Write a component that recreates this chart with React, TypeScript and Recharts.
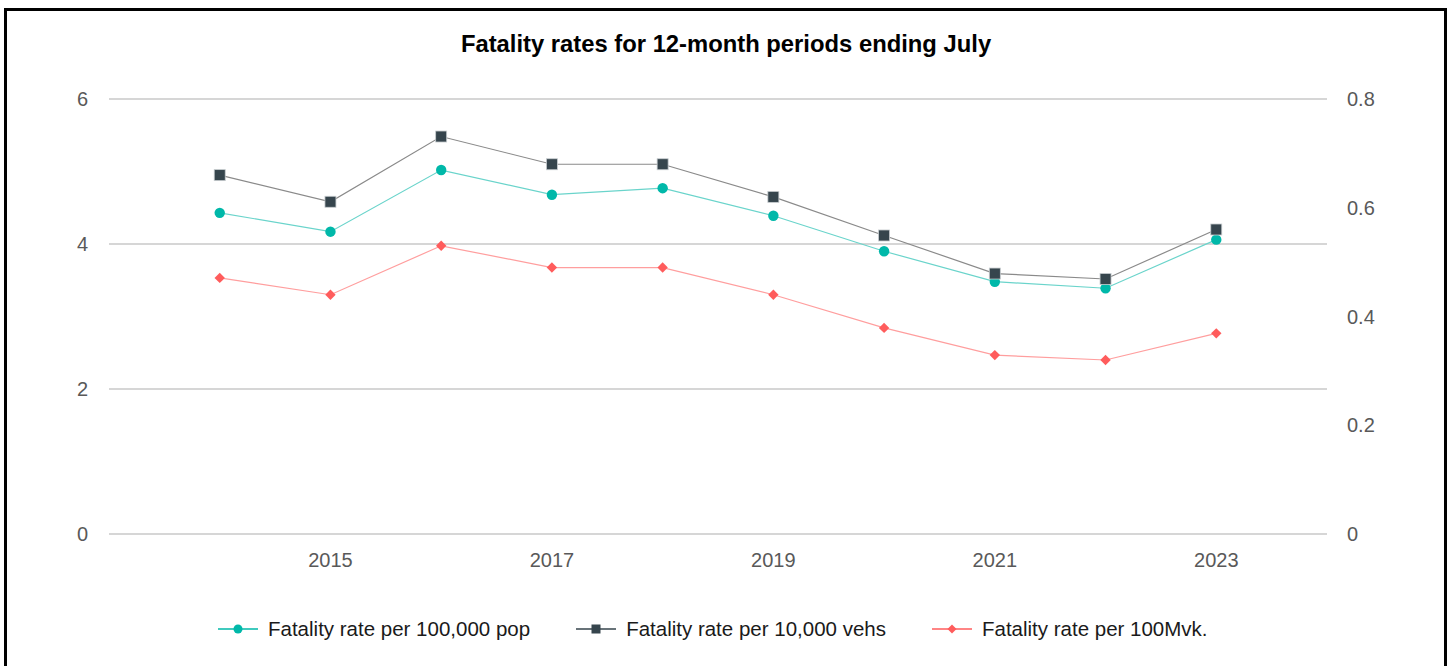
import React from "react";
import {
  LineChart,
  Line,
  XAxis,
  YAxis,
  CartesianGrid,
  Legend,
} from "recharts";

const years = [2014, 2015, 2016, 2017, 2018, 2019, 2020, 2021, 2022, 2023];
const perPop = [4.43, 4.17, 5.02, 4.68, 4.77, 4.39, 3.9, 3.48, 3.39, 4.06];
const perVehs = [0.66, 0.611, 0.731, 0.68, 0.68, 0.62, 0.549, 0.479, 0.469, 0.56];
const perMvk = [0.471, 0.44, 0.53, 0.49, 0.49, 0.44, 0.379, 0.329, 0.32, 0.369];

const xTicks = [2015, 2017, 2019, 2021, 2023];
const leftTicks = [0, 2, 4, 6];
const rightTicks = [0, 0.2, 0.4, 0.6, 0.8];

const data = years.map((year, i) => ({
  year,
  pop: perPop[i],
  vehs: perVehs[i],
  mvk: perMvk[i],
}));

const TEAL = "#00b8a9";
const TEAL_LINE = "#6ad4cb";
const DARK = "#36454d";
const DARK_LINE = "#8a8a8a";
const RED = "#ff5c5c";
const RED_LINE = "#ff9e9e";

const font = "Arial, 'Liberation Sans', sans-serif";
const tickStyle = { fill: "#595959", fontSize: 20, fontFamily: font };

const CircleDot = (props: any) => {
  const { cx, cy, index } = props;
  return <circle key={`c${index}`} cx={cx} cy={cy} r={5.2} fill={TEAL} />;
};

const SquareDot = (props: any) => {
  const { cx, cy, index } = props;
  return (
    <rect
      key={`s${index}`}
      x={cx - 5.5}
      y={cy - 5.5}
      width={11}
      height={11}
      fill={DARK}
      stroke="#c8cdd0"
      strokeWidth={0.8}
    />
  );
};

const DiamondDot = (props: any) => {
  const { cx, cy, index } = props;
  const s = 5.2;
  return (
    <path
      key={`d${index}`}
      d={`M${cx},${cy - s}L${cx + s},${cy}L${cx},${cy + s}L${cx - s},${cy}Z`}
      fill={RED}
    />
  );
};

const legendItems = [
  { label: "Fatality rate per 100,000 pop", line: TEAL, mark: "circle" },
  { label: "Fatality rate per 10,000 vehs", line: DARK, mark: "square" },
  { label: "Fatality rate per 100Mvk.", line: RED, mark: "diamond" },
];

const renderLegend = () => (
  <div
    style={{
      display: "flex",
      alignItems: "center",
      fontFamily: font,
      fontSize: 20.5,
      color: "#1a1a1a",
      paddingLeft: 218,
    }}
  >
    {legendItems.map((item) => (
      <div
        key={item.label}
        style={{ display: "flex", alignItems: "center", marginRight: 46 }}
      >
        <svg width={40} height={16} style={{ marginRight: 10 }}>
          <line x1={0} y1={8} x2={40} y2={8} stroke={item.line} strokeWidth={1.5} />
          {item.mark === "circle" && <circle cx={20} cy={8} r={4.5} fill={TEAL} />}
          {item.mark === "square" && (
            <rect x={15.5} y={3.5} width={9} height={9} fill={DARK} />
          )}
          {item.mark === "diamond" && (
            <path d="M20,3.5L24.5,8L20,12.5L15.5,8Z" fill={RED} />
          )}
        </svg>
        <span>{item.label}</span>
      </div>
    ))}
  </div>
);

export default function App() {
  return (
    <div
      style={{
        position: "relative",
        width: 1454,
        height: 666,
        overflow: "hidden",
        background: "#fff",
      }}
    >
      <style>{"body{margin:0;overflow:hidden}"}</style>
      <div
        style={{
          position: "absolute",
          left: 4,
          top: 8,
          width: 1443,
          height: 720,
          border: "3px solid #000",
          boxSizing: "border-box",
        }}
      />
      <div
        style={{
          position: "absolute",
          top: 30,
          left: 0,
          width: 1452,
          textAlign: "center",
          fontFamily: font,
          fontWeight: "bold",
          fontSize: 23.8,
          color: "#000",
        }}
      >
        Fatality rates for 12-month periods ending July
      </div>
      <div style={{ position: "absolute", left: 0, top: 0 }}>
        <LineChart
          width={1454}
          height={666}
          data={data}
          margin={{ top: 99, right: 0, bottom: 92, left: 0 }}
        >
          <CartesianGrid
            yAxisId="left"
            vertical={false}
            stroke="#d6d6d6"
            strokeWidth={2}
          />
          <XAxis
            dataKey="year"
            type="number"
            domain={[2013, 2024]}
            ticks={xTicks}
            axisLine={false}
            tickLine={false}
            tickSize={0}
            tickMargin={19}
            height={40}
            tick={tickStyle}
          />
          <YAxis
            yAxisId="left"
            orientation="left"
            domain={[0, 6]}
            ticks={leftTicks}
            axisLine={false}
            tickLine={false}
            tickSize={0}
            tickMargin={21}
            width={109}
            tick={tickStyle}
          />
          <YAxis
            yAxisId="right"
            orientation="right"
            domain={[0, 0.8]}
            ticks={rightTicks}
            axisLine={false}
            tickLine={false}
            tickSize={0}
            tickMargin={20}
            width={127}
            tick={{ ...tickStyle, textAnchor: "start" }}
          />
          <Legend
            layout="vertical"
            align="center"
            verticalAlign="middle"
            wrapperStyle={{ top: 617, left: 0, width: 1454 }}
            content={renderLegend}
          />
          <Line
            yAxisId="left"
            dataKey="pop"
            stroke={TEAL_LINE}
            strokeWidth={1.2}
            dot={CircleDot}
            activeDot={false}
            isAnimationActive={false}
          />
          <Line
            yAxisId="right"
            dataKey="vehs"
            stroke={DARK_LINE}
            strokeWidth={1.2}
            dot={SquareDot}
            activeDot={false}
            isAnimationActive={false}
          />
          <Line
            yAxisId="right"
            dataKey="mvk"
            stroke={RED_LINE}
            strokeWidth={1.2}
            dot={DiamondDot}
            activeDot={false}
            isAnimationActive={false}
          />
        </LineChart>
      </div>
    </div>
  );
}
